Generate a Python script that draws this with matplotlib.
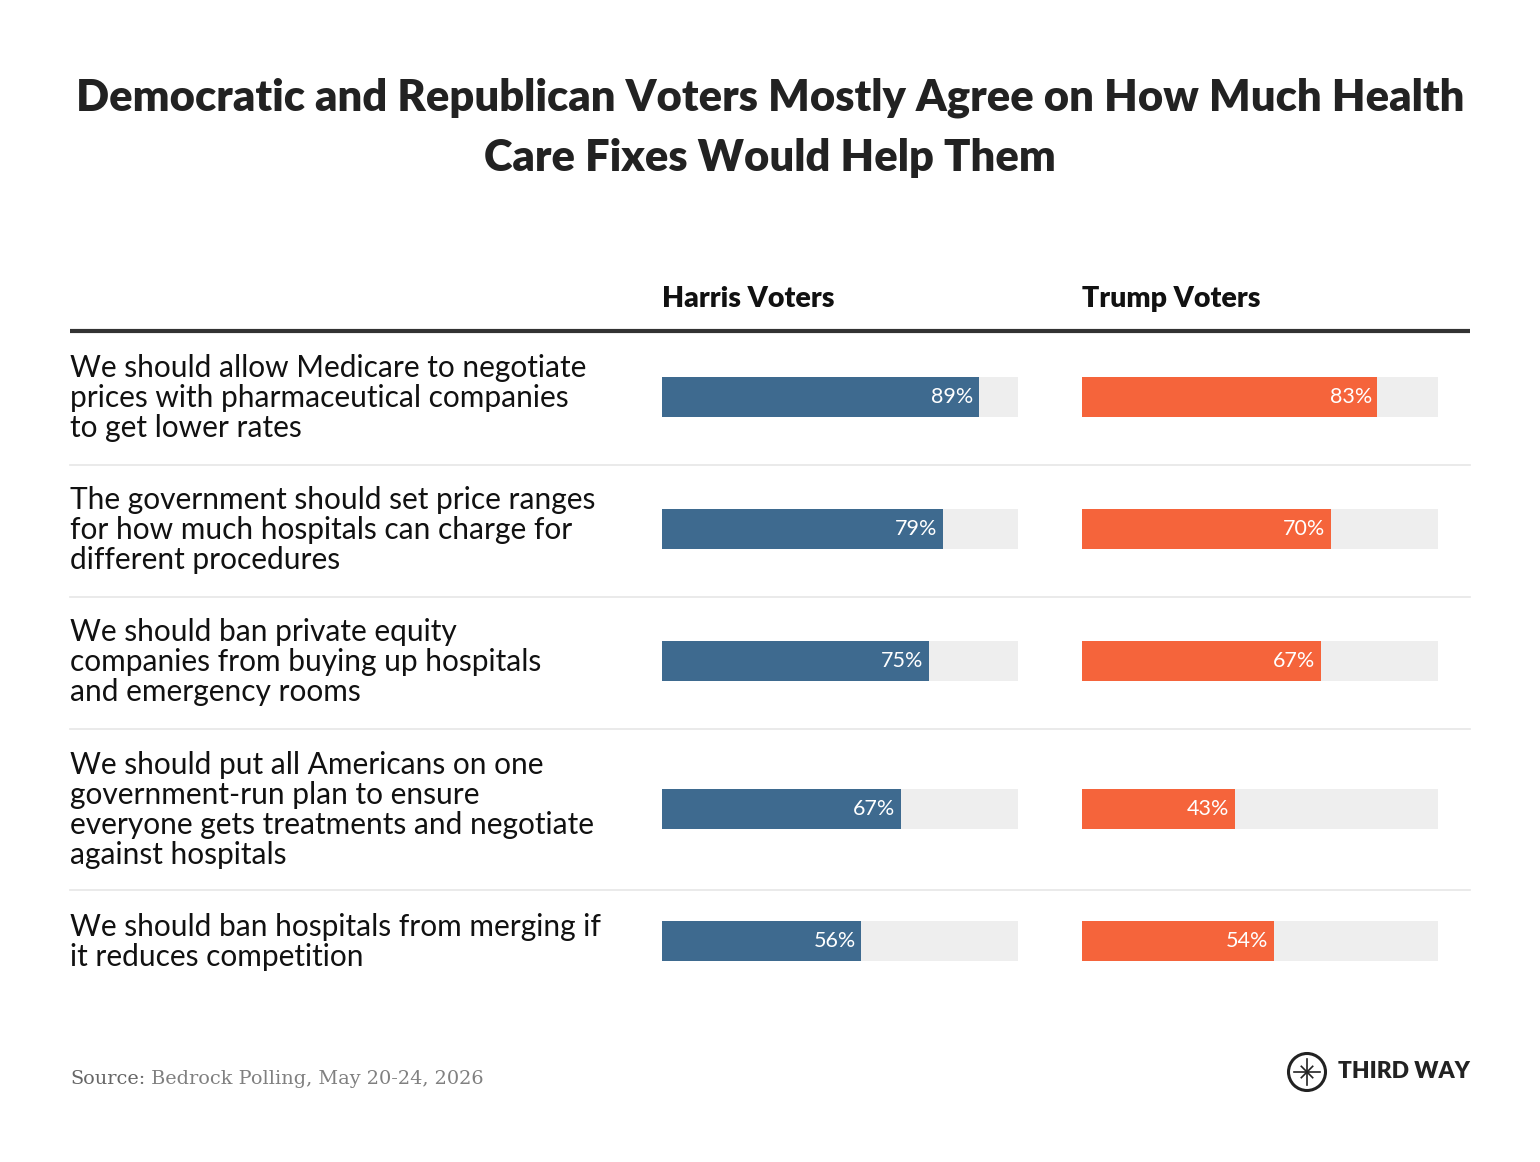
import numpy as np
import matplotlib.pyplot as plt
from matplotlib.patches import Circle

plt.rcParams["font.family"] = ["Lato", "DejaVu Sans"]

title = "Democratic and Republican Voters Mostly Agree on How Much Health\nCare Fixes Would Help Them"
groups = ["Harris Voters", "Trump Voters"]
statements = [
    "We should allow Medicare to negotiate\nprices with pharmaceutical companies\nto get lower rates",
    "The government should set price ranges\nfor how much hospitals can charge for\ndifferent procedures",
    "We should ban private equity\ncompanies from buying up hospitals\nand emergency rooms",
    "We should put all Americans on one\ngovernment-run plan to ensure\neveryone gets treatments and negotiate\nagainst hospitals",
    "We should ban hospitals from merging if\nit reduces competition",
]
harris = [89, 79, 75, 67, 56]
trump = [83, 70, 67, 43, 54]
source = "Bedrock Polling, May 20-24, 2026"

colors = ["#3e6a8f", "#f5643b"]
track = "#eeeeee"

W, H = 1540, 1162
fig = plt.figure(figsize=(W / 100, H / 100), dpi=100)

# background axes in pixel coordinates for text and rules
bg = fig.add_axes([0, 0, 1, 1])
bg.set_xlim(0, W)
bg.set_ylim(H, 0)
bg.axis("off")

bg.text(770, 128, title, ha="center", va="center", fontsize=31.3, fontweight="heavy",
        color="#222222", linespacing=1.6)

# row geometry (pixels)
row_centers = [397, 529, 661, 809, 941]
separators = [465, 597, 729, 890]
bar_h = 40

bg.plot([70, 1470], [331, 331], color="#333333", lw=3, solid_capstyle="butt")
for y in separators:
    bg.plot([70, 1470], [y, y], color="#e6e6e6", lw=1.2)

for y, s in zip(row_centers, statements):
    bg.text(70, y + 1, s, ha="left", va="center", fontsize=21.5, color="#111111",
            linespacing=1.08)

cols = [(662, 356), (1082, 356)]
for (x0, w), g, vals, c in zip(cols, groups, [harris, trump], colors):
    bg.text(x0, 299, g, ha="left", va="center", fontsize=20.5, fontweight="heavy",
            color="#111111")
    ax = fig.add_axes([x0 / W, 0, w / W, 1])
    ax.set_xlim(0, 100)
    ax.set_ylim(H, 0)
    ax.axis("off")
    ax.barh(row_centers, [100] * len(vals), height=bar_h, color=track)
    ax.barh(row_centers, vals, height=bar_h, color=c)
    for y, v in zip(row_centers, vals):
        ax.text(v - 1.6, y, f"{v}%", ha="right", va="center", fontsize=15.5,
                fontweight="normal", color="white")

# source
src = bg.text(70, 1079, "Source:", ha="left", va="center", fontsize=13.9,
              family=["DejaVu Serif"], color="#666666")
fig.canvas.draw()
bb = src.get_window_extent()
x_end = bb.x1
bg.annotate(" " + source, xy=(x_end, H - 1079), xycoords="figure pixels",
            ha="left", va="center", fontsize=13.9, family=["DejaVu Serif"],
            color="#808080")

# logo
bg.add_patch(Circle((1307, 1072), 18.5, fill=False, ec="#222222", lw=2.2))
ang = np.linspace(0, 2 * np.pi, 9)[:-1]
for a in ang:
    r = 13 if a % (np.pi / 2) < 1e-6 else 8
    bg.plot([1307, 1307 + r * np.cos(a)], [1072, 1072 + r * np.sin(a)],
            color="#222222", lw=1.2)
bg.text(1338, 1072, "THIRD WAY", ha="left", va="center", fontsize=16.4,
        fontweight="heavy", color="#222222")

fig.savefig("out.png", dpi=100, facecolor="white")
